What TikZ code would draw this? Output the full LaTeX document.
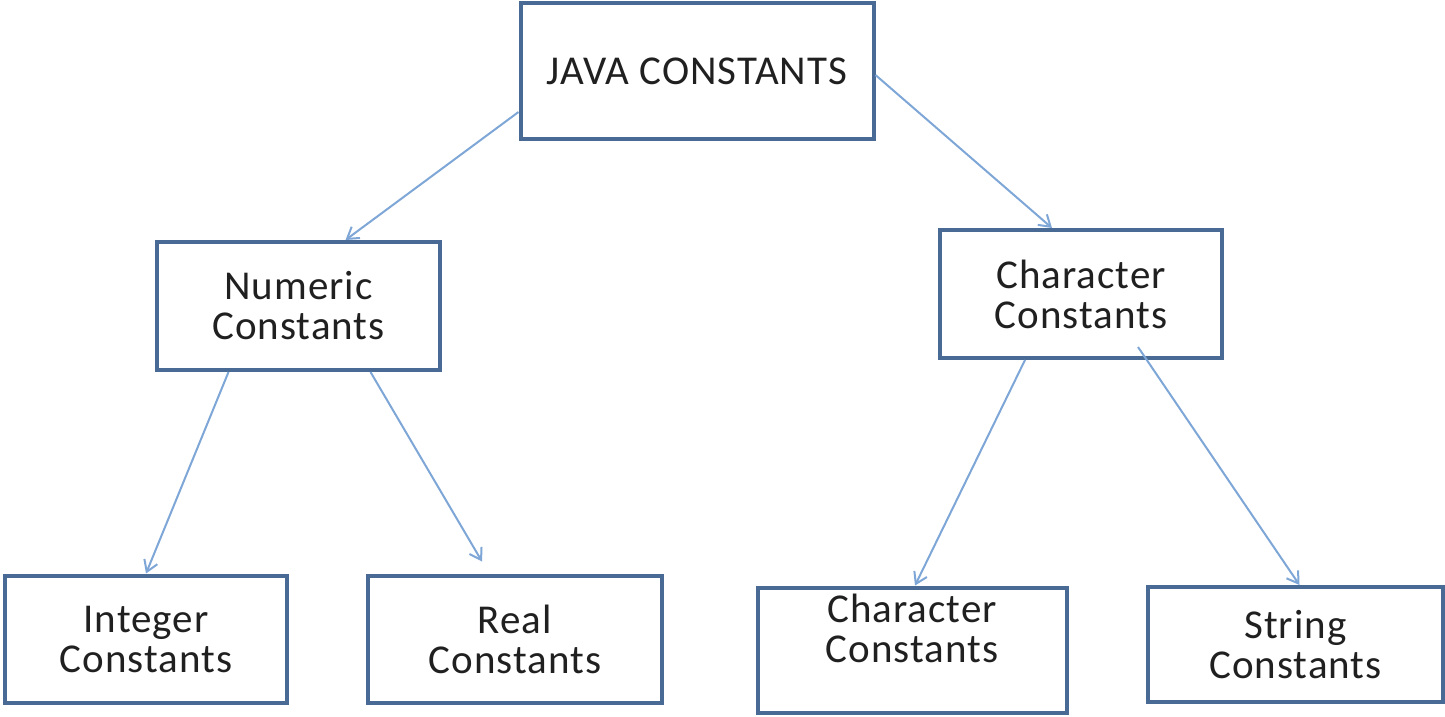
\documentclass[tikz,border=0pt]{standalone}
\usepackage{fontspec}
\setmainfont[LetterSpace=2.5]{Carlito}
\usetikzlibrary{arrows.meta}
\definecolor{boxline}{HTML}{4A6A96}
\definecolor{arrowline}{HTML}{7EA6D6}
\definecolor{ink}{HTML}{202020}
\begin{document}
\begin{tikzpicture}[x=1pt,y=1pt,
  box/.style={draw=boxline, line width=4pt, fill=white, rectangle,
    align=center, text=ink, font=\fontsize{41}{40}\selectfont, inner sep=0pt},
  label text/.style={align=center, text=ink, font=\fontsize{41}{40}\selectfont, inner sep=0pt},
  arr/.style={draw=arrowline, line width=2pt,
    -{Straight Barb[length=11pt,width=14pt,line width=2pt]}}]
\useasboundingbox (0,0) rectangle (1445,-716);

% boxes
\node[box, minimum width=353, minimum height=136] (jc) at (697,-71) {JAVA CONSTANTS};
\node[box, minimum width=283, minimum height=128] (num) at (298.5,-306) {Numeric\\Constants};
\node[box, minimum width=282, minimum height=128] (ch) at (1081,-294) {Character\\Constants};
\node[box, minimum width=282, minimum height=127] (int) at (146,-639) {Integer\\Constants};
\node[box, minimum width=294, minimum height=127] (real) at (515,-639) {Real\\Constants};
\node[box, minimum width=309, minimum height=125] (chb) at (912,-650) {};
\node[label text] (chbtext) at (912,-628) {Character\\Constants};
\node[box, minimum width=295, minimum height=115] (str) at (1295.5,-644.5) {String\\Constants};

% connectors
\draw[arr] ([yshift=-41pt]jc.west) -- ([xshift=47pt]num.north);
\draw[arr] ([yshift=-4pt]jc.east) -- ([xshift=-29pt]ch.north);
\draw[arr] ([xshift=-70pt]num.south) -- ([xshift=0pt]int.north);
\draw[arr] ([xshift=72pt]num.south) -- ([xshift=-33pt,yshift=12pt]real.north);
\draw[arr] ([xshift=-56pt]ch.south) -- ([xshift=3pt]chb.north);
\draw[arr] ([xshift=57pt,yshift=13pt]ch.south) -- ([xshift=4pt]str.north);
\end{tikzpicture}
\end{document}
